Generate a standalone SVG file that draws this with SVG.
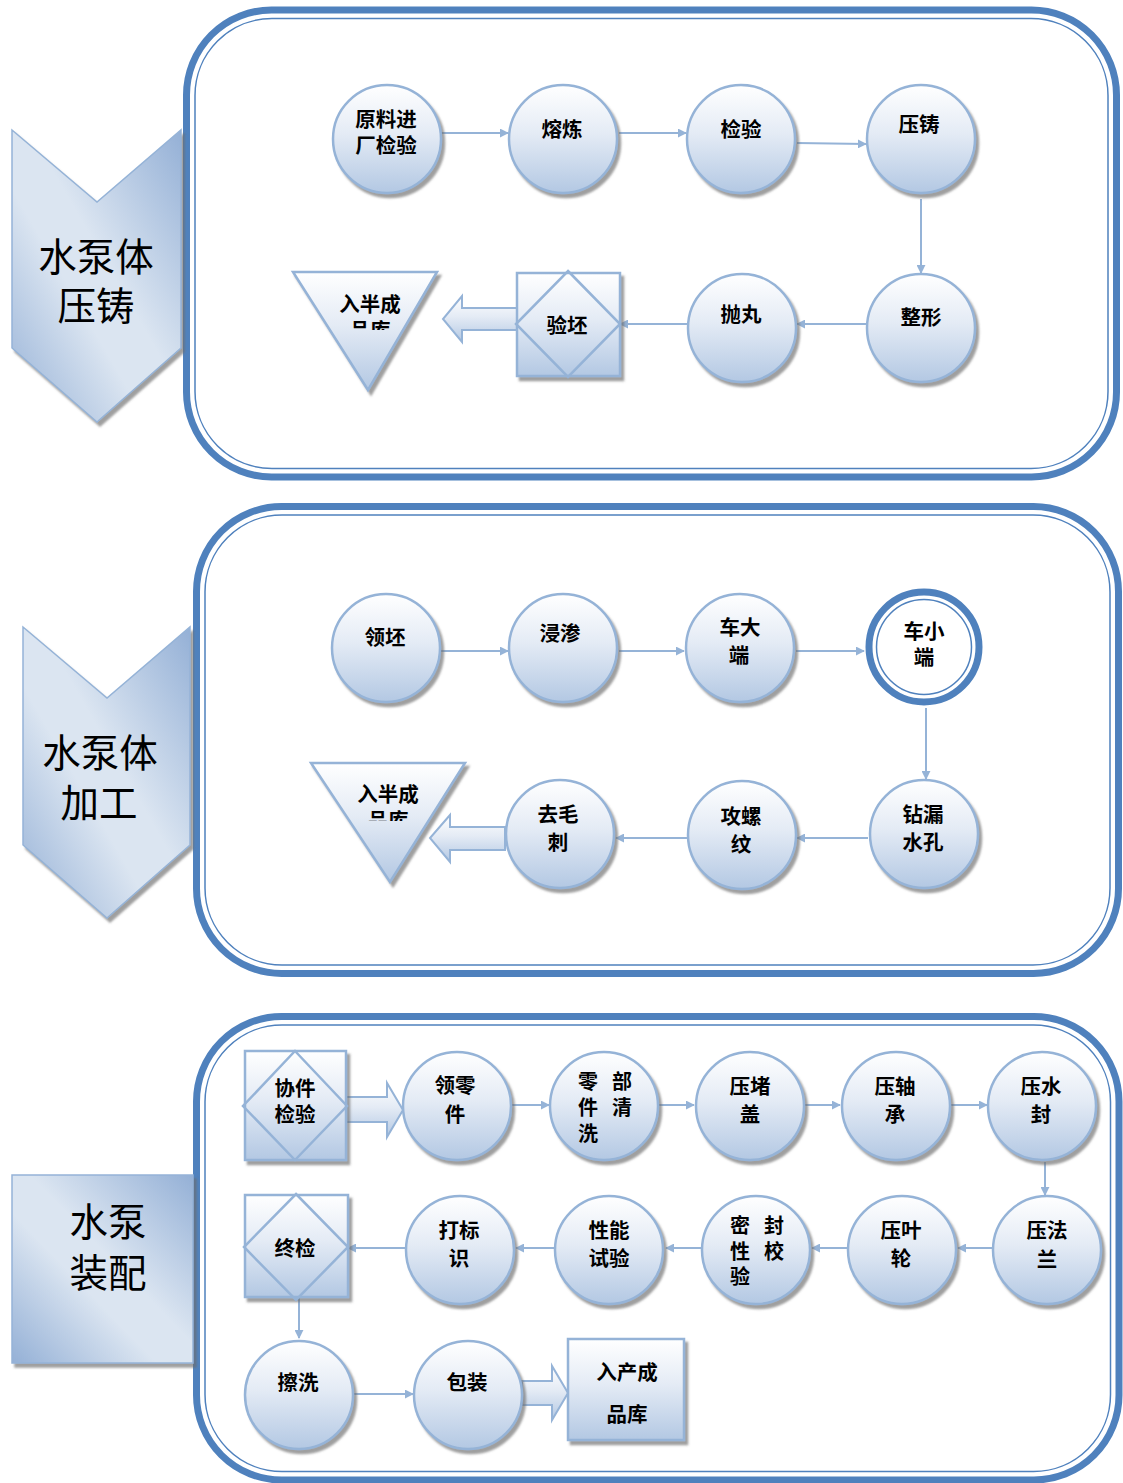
<svg xmlns="http://www.w3.org/2000/svg" width="1123" height="1483" viewBox="0 0 1123 1483">
<defs>
<linearGradient id="gNode" x1="0" y1="0" x2="0" y2="1">
<stop offset="0" stop-color="#ffffff"/><stop offset="0.45" stop-color="#e4ebf5"/><stop offset="1" stop-color="#b3c8e3"/>
</linearGradient>
<linearGradient id="gSide" x1="1" y1="0" x2="0" y2="1">
<stop offset="0" stop-color="#94b0d6"/><stop offset="0.45" stop-color="#dbe5f1"/><stop offset="0.6" stop-color="#dbe5f1"/><stop offset="1" stop-color="#94b0d6"/>
</linearGradient>
<filter id="sh" x="-20%" y="-20%" width="150%" height="150%">
<feDropShadow dx="3" dy="4" stdDeviation="1.2" flood-color="#6d6d6d" flood-opacity="0.65"/>
</filter>
<marker id="ah" viewBox="0 0 10 10" refX="9" refY="5" markerWidth="9" markerHeight="9" markerUnits="userSpaceOnUse" orient="auto">
<path d="M0,0 L10,5 L0,10 z" fill="#95b3d7"/>
</marker>
<clipPath id="clip1"><rect x="290" y="270" width="160" height="60"/></clipPath>
<clipPath id="clip2"><rect x="300" y="760" width="170" height="61"/></clipPath>
</defs>
<style>
.panel{fill:#ffffff;stroke:#4f81bd;stroke-width:7}
.panelIn{fill:none;stroke:#4f81bd;stroke-width:1.5}
.side{fill:url(#gSide);stroke:#95b3d7;stroke-width:1.5;filter:url(#sh)}
.node{fill:url(#gNode);stroke:#95b3d7;stroke-width:2.5;filter:url(#sh)}
.dia{fill:none;stroke:#95b3d7;stroke-width:2.5}
.conn{fill:none;stroke:#95b3d7;stroke-width:2;marker-end:url(#ah)}
.blk{fill:url(#gNode);stroke:#95b3d7;stroke-width:2}
.t{font-family:"Noto Sans CJK SC","Noto Sans CJK TC",sans-serif;font-size:20.5px;font-weight:bold;fill:#000;text-anchor:middle}
.tl{font-family:"Noto Sans CJK SC","Noto Sans CJK TC",sans-serif;font-size:20px;font-weight:bold;fill:#000}
.big{font-family:"Noto Sans CJK SC","Noto Sans CJK TC",sans-serif;font-size:38.5px;fill:#000;text-anchor:middle}
</style>

<!-- Panels -->
<g id="panel1"><rect class="panel" x="186.5" y="10" width="930" height="467" rx="85"/><rect class="panelIn" x="195" y="18.5" width="913" height="450" rx="77"/></g>
<g id="panel2"><rect class="panel" x="196.5" y="506.5" width="922" height="467" rx="85"/><rect class="panelIn" x="205" y="515" width="905" height="450" rx="77"/></g>
<g id="panel3"><rect class="panel" x="196.5" y="1016.5" width="922.5" height="463.5" rx="85"/><rect class="panelIn" x="205" y="1025" width="905.5" height="446.5" rx="77"/></g>

<!-- Side labels -->
<g id="side1"><path class="side" d="M12,130 L97,202 L181,130 L181,348 L97,422 L12,348 Z"/><text class="big" x="96" y="271">水泵体</text><text class="big" x="96" y="320">压铸</text></g>
<g id="side2"><path class="side" d="M23,627 L107,698 L190,627 L190,845 L107,918 L23,845 Z"/><text class="big" x="100" y="767">水泵体</text><text class="big" x="99" y="817">加工</text></g>
<g id="side3"><rect class="side" x="12" y="1175" width="181" height="188"/><text class="big" x="108" y="1236">水泵</text><text class="big" x="108" y="1287">装配</text></g>

<!-- Connectors -->
<g id="connectors">
<line class="conn" x1="441" y1="133" x2="508" y2="133"/>
<line class="conn" x1="619" y1="133" x2="686" y2="133"/>
<line class="conn" x1="797" y1="143" x2="866" y2="144"/>
<line class="conn" x1="921" y1="199" x2="921" y2="273"/>
<line class="conn" x1="866" y1="324" x2="797" y2="324"/>
<line class="conn" x1="687" y1="324" x2="620" y2="324"/>
<path class="blk" d="M517,308 L462,308 L462,296 L443,319 L462,342 L462,330 L517,330 Z"/>

<line class="conn" x1="441" y1="651" x2="508" y2="651"/>
<line class="conn" x1="619" y1="651" x2="684" y2="651"/>
<line class="conn" x1="796" y1="651" x2="864" y2="651"/>
<line class="conn" x1="926" y1="708" x2="926" y2="779"/>
<line class="conn" x1="868" y1="838" x2="797" y2="838"/>
<line class="conn" x1="688" y1="838" x2="616" y2="838"/>
<path class="blk" d="M505,827 L450,827 L450,815 L430,838 L450,862 L450,850 L505,850 Z"/>

<path class="blk" d="M346,1097 L387,1097 L387,1083 L403,1110 L387,1137 L387,1122 L346,1122 Z"/>
<line class="conn" x1="512" y1="1105" x2="549" y2="1105"/>
<line class="conn" x1="659" y1="1105" x2="694" y2="1105"/>
<line class="conn" x1="805" y1="1105" x2="840" y2="1105"/>
<line class="conn" x1="951" y1="1105" x2="987" y2="1105"/>
<line class="conn" x1="1045" y1="1162" x2="1045" y2="1195"/>
<line class="conn" x1="992" y1="1248" x2="958" y2="1248"/>
<line class="conn" x1="847" y1="1248" x2="812" y2="1248"/>
<line class="conn" x1="701" y1="1248" x2="666" y2="1248"/>
<line class="conn" x1="554" y1="1248" x2="516" y2="1248"/>
<line class="conn" x1="405" y1="1248" x2="348" y2="1248"/>
<line class="conn" x1="299" y1="1297" x2="299" y2="1338"/>
<line class="conn" x1="354" y1="1394" x2="413" y2="1394"/>
<path class="blk" d="M522,1381 L552,1381 L552,1366 L568,1393 L552,1420 L552,1405 L522,1405 Z"/>
</g>

<!-- Panel 1 nodes -->
<g id="n_yuanliao"><circle class="node" cx="387" cy="139" r="54"/><text class="t" x="386" y="127">原料进</text><text class="t" x="386" y="153">厂检验</text></g>
<g id="n_ronglian"><circle class="node" cx="563" cy="139" r="54"/><text class="t" x="562" y="137">熔炼</text></g>
<g id="n_jianyan"><circle class="node" cx="741" cy="139" r="54"/><text class="t" x="741" y="137">检验</text></g>
<g id="n_yazhu"><circle class="node" cx="921" cy="139" r="54"/><text class="t" x="919" y="132">压铸</text></g>
<g id="n_zhengxing"><circle class="node" cx="921" cy="328" r="54"/><text class="t" x="921" y="325">整形</text></g>
<g id="n_paowan"><circle class="node" cx="742" cy="328" r="54"/><text class="t" x="741" y="322">抛丸</text></g>
<g id="n_yanpi"><rect class="node" x="517" y="273" width="103" height="103"/><path class="dia" d="M568,271 L620,324 L568,377 L516,324 Z"/><text class="t" x="567" y="333">验坯</text></g>
<g id="n_ruban1"><path class="node" d="M293,272 L437,272 L368,390 Z"/><g clip-path="url(#clip1)"><text class="t" x="370" y="312">入半成</text><text class="t" x="370" y="338">品库</text></g></g>

<!-- Panel 2 nodes -->
<g id="n_lingpi"><circle class="node" cx="386" cy="648" r="54"/><text class="t" x="385" y="645">领坯</text></g>
<g id="n_jinshen"><circle class="node" cx="563" cy="648" r="54"/><text class="t" x="560" y="641">浸渗</text></g>
<g id="n_chedaduan"><circle class="node" cx="740" cy="648" r="54"/><text class="t" x="740" y="635">车大</text><text class="t" x="739" y="663">端</text></g>
<g id="n_chexiaoduan"><circle cx="924" cy="647" r="55" fill="#ffffff" stroke="#4f81bd" stroke-width="7"/><circle cx="924" cy="647" r="47.5" fill="none" stroke="#4f81bd" stroke-width="1.5"/><text class="t" x="924" y="639">车小</text><text class="t" x="924" y="665">端</text></g>
<g id="n_zuanlou"><circle class="node" cx="924" cy="834" r="54"/><text class="t" x="923" y="822">钻漏</text><text class="t" x="923" y="850">水孔</text></g>
<g id="n_gongluo"><circle class="node" cx="742" cy="835" r="54"/><text class="t" x="741" y="824">攻螺</text><text class="t" x="741" y="852">纹</text></g>
<g id="n_qumaoci"><circle class="node" cx="560" cy="834" r="54"/><text class="t" x="558" y="822">去毛</text><text class="t" x="558" y="850">刺</text></g>
<g id="n_ruban2"><path class="node" d="M311,763 L465,763 L390,882 Z"/><g clip-path="url(#clip2)"><text class="t" x="388" y="802">入半成</text><text class="t" x="388" y="828">品库</text></g></g>

<!-- Panel 3 nodes -->
<g id="n_xiejian"><rect class="node" x="245" y="1051" width="101" height="109"/><path class="dia" d="M295,1051 L347,1106 L295,1160 L243,1106 Z"/><text class="t" x="295" y="1096">协件</text><text class="t" x="295" y="1122">检验</text></g>
<g id="n_lingling"><circle class="node" cx="457" cy="1106" r="54"/><text class="t" x="455" y="1093">领零</text><text class="t" x="455" y="1122">件</text></g>
<g id="n_qingxi"><circle class="node" cx="604" cy="1106" r="54"/><text class="tl" x="578" y="1089">零</text><text class="tl" x="612" y="1089">部</text><text class="tl" x="578" y="1115">件</text><text class="tl" x="612" y="1115">清</text><text class="tl" x="578" y="1141">洗</text></g>
<g id="n_yadugai"><circle class="node" cx="750" cy="1106" r="54"/><text class="t" x="750" y="1094">压堵</text><text class="t" x="750" y="1122">盖</text></g>
<g id="n_yazhoucheng"><circle class="node" cx="896" cy="1106" r="54"/><text class="t" x="895" y="1094">压轴</text><text class="t" x="895" y="1122">承</text></g>
<g id="n_yashuifeng"><circle class="node" cx="1042" cy="1106" r="54"/><text class="t" x="1041" y="1094">压水</text><text class="t" x="1041" y="1122">封</text></g>
<g id="n_yafalan"><circle class="node" cx="1047" cy="1250" r="54"/><text class="t" x="1047" y="1238">压法</text><text class="t" x="1047" y="1267">兰</text></g>
<g id="n_yayelun"><circle class="node" cx="902" cy="1250" r="54"/><text class="t" x="901" y="1238">压叶</text><text class="t" x="901" y="1266">轮</text></g>
<g id="n_mifeng"><circle class="node" cx="756" cy="1250" r="54"/><text class="tl" x="730" y="1233">密</text><text class="tl" x="764" y="1233">封</text><text class="tl" x="730" y="1259">性</text><text class="tl" x="764" y="1259">校</text><text class="tl" x="730" y="1284">验</text></g>
<g id="n_xingneng"><circle class="node" cx="609" cy="1250" r="54"/><text class="t" x="609" y="1238">性能</text><text class="t" x="609" y="1266">试验</text></g>
<g id="n_dabiaoshi"><circle class="node" cx="460" cy="1250" r="54"/><text class="t" x="459" y="1238">打标</text><text class="t" x="459" y="1266">识</text></g>
<g id="n_zhongjian"><rect class="node" x="245" y="1195" width="103" height="102"/><path class="dia" d="M296,1194 L348,1247 L296,1300 L244,1247 Z"/><text class="t" x="295" y="1256">终检</text></g>
<g id="n_caxi"><circle class="node" cx="299" cy="1395" r="54"/><text class="t" x="298" y="1390">擦洗</text></g>
<g id="n_baozhuang"><circle class="node" cx="468" cy="1395" r="54"/><text class="t" x="467" y="1390">包装</text></g>
<g id="n_rucheng"><rect class="node" x="568" y="1339" width="116" height="101"/><text class="t" x="627" y="1380">入产成</text><text class="t" x="627" y="1422">品库</text></g>
</svg>
